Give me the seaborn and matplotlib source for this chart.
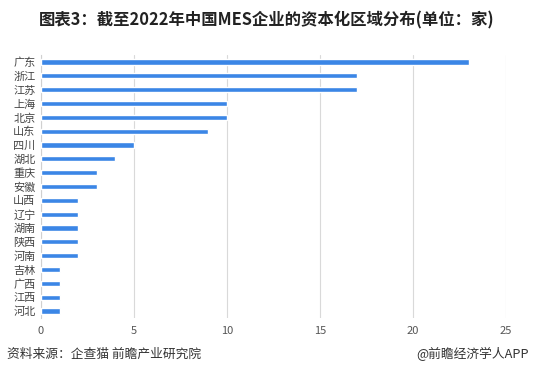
import pandas as pd
import seaborn as sb
import matplotlib.pyplot as plt

# data
regions = ["广东", "浙江", "江苏", "上海", "北京", "山东", "四川", "湖北", "重庆", "安徽",
           "山西", "辽宁", "湖南", "陕西", "河南", "吉林", "广西", "江西", "河北"]
counts = [23, 17, 17, 10, 10, 9, 5, 4, 3, 3, 2, 2, 2, 2, 2, 1, 1, 1, 1]
x_ticks = [0, 5, 10, 15, 20, 25]

oData = pd.DataFrame({"region": regions, "count": counts})

sb.set_style("white")
plt.rcParams['font.family'] = ['Noto Sans CJK SC', 'DejaVu Sans']

fig = plt.figure(figsize=(5.33, 3.84), dpi=100, facecolor='w')
ax = fig.add_axes([41 / 533, 1 - 318 / 384, (506 - 41) / 533, (318 - 55) / 384])

sb.barplot(data=oData, x="count", y="region", color="#3b86e6", width=0.38,
           saturation=1, ax=ax, zorder=3)

ax.set_xlim(0, 25)
ax.set_xticks(x_ticks)
ax.set_xticklabels([str(t) for t in x_ticks], fontsize=8, color="#555555")
ax.tick_params(axis="y", labelsize=8, labelcolor="#444444", length=0, pad=4)
ax.tick_params(axis="x", length=0, pad=6)
ax.set_xlabel("")
ax.set_ylabel("")
ax.grid(axis="x", color="#d9d9d9", linewidth=0.8, zorder=0)
for s in ["top", "right", "bottom"]:
    ax.spines[s].set_visible(False)
ax.spines["left"].set_color("#d0d0d0")
ax.spines["left"].set_linewidth(0.8)
ax.set_ylim(len(regions) - 0.5, -0.5)

fig.text(0.5, 1 - 20 / 384, "图表3：截至2022年中国MES企业的资本化区域分布(单位：家)",
         ha="center", va="center", fontsize=11.8, fontweight="bold", color="#222222")
fig.text(7 / 533, 1 - 354 / 384, "资料来源：企查猫 前瞻产业研究院",
         ha="left", va="center", fontsize=9.2, color="#333333")
fig.text(529 / 533, 1 - 354 / 384, "@前瞻经济学人APP",
         ha="right", va="center", fontsize=9.2, color="#333333")

fig.savefig("out.png", dpi=100)
